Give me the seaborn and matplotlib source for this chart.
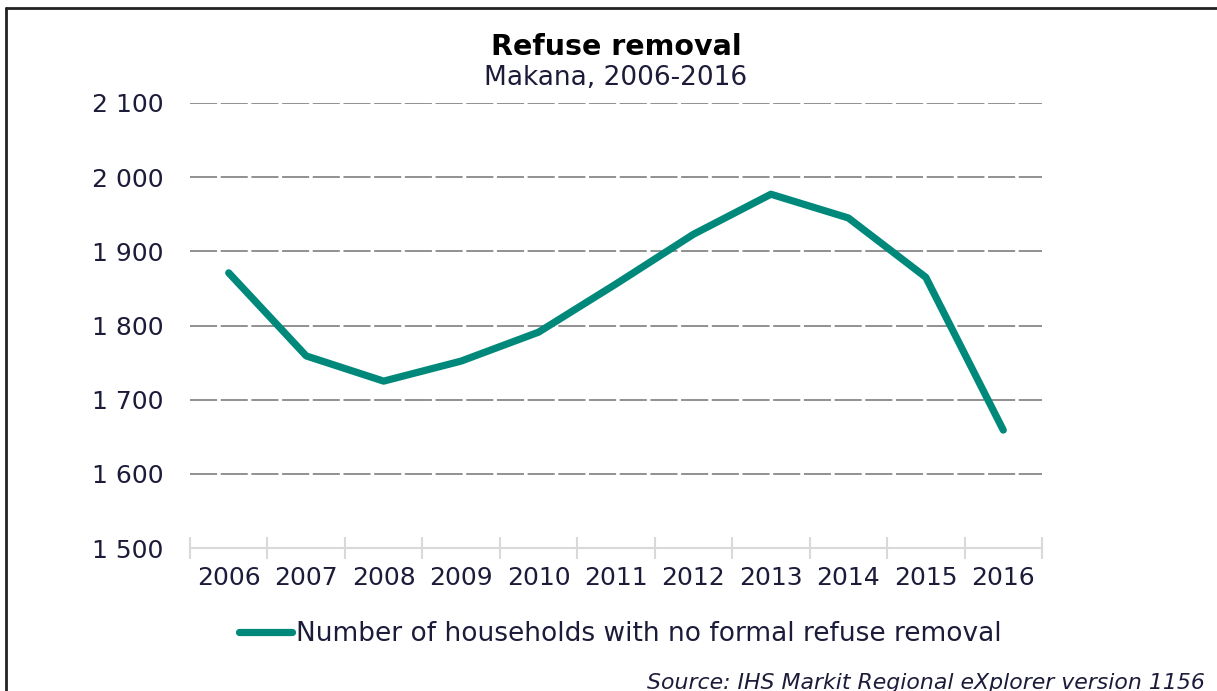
import matplotlib
matplotlib.use("Agg")
import matplotlib.pyplot as plt
from matplotlib.lines import Line2D
import seaborn as sns
import pandas as pd
import numpy as np

years = ["2006", "2007", "2008", "2009", "2010", "2011", "2012", "2013", "2014", "2015", "2016"]
households = [1871, 1759, 1725, 1752, 1791, 1856, 1923, 1977, 1945, 1865, 1659]
y_ticks = [1500, 1600, 1700, 1800, 1900, 2000, 2100]
y_tick_labels = ["1 500", "1 600", "1 700", "1 800", "1 900", "2 000", "2 100"]
series_name = "Number of households with no formal refuse removal"

sns.set_theme(style="white")
plt.rcParams["font.family"] = ["DejaVu Sans"]

text_color = "#1c1c3a"
line_color = "#00897b"

df = pd.DataFrame({"year": years, "value": households})
df["pos"] = np.arange(len(years))

fig = plt.figure(figsize=(12.17, 6.91), dpi=100)
ax = fig.add_axes([190 / 1217, 1 - 548 / 691, (1042 - 190) / 1217, (548 - 103) / 691])

sns.lineplot(data=df, x="pos", y="value", ax=ax, color=line_color, linewidth=5.2,
             solid_capstyle="round", solid_joinstyle="round", legend=False, zorder=3)

ax.set_xlim(-0.5, len(years) - 0.5)
ax.set_ylim(y_ticks[0], y_ticks[-1])

# dashed horizontal gridlines above the baseline
for v in y_ticks[1:]:
    ax.axhline(v, color="#888888", linewidth=1.3, linestyle=(0, (15, 2)), zorder=1)

ax.set_yticks(y_ticks)
ax.set_yticklabels(y_tick_labels, fontsize=18, color=text_color)
ax.tick_params(axis="y", length=0, pad=19)

ax.set_xticks(np.arange(len(years)))
ax.set_xticklabels(years, fontsize=18, color=text_color)
ax.set_xticks(np.arange(len(years) + 1) - 0.5, minor=True)
ax.tick_params(axis="x", which="major", length=0, pad=13)
ax.tick_params(axis="x", which="minor", direction="inout", length=16, width=1.5,
               color="#d9d9d9", bottom=True)

ax.set_xlabel("")
ax.set_ylabel("")
for side in ["top", "right", "left"]:
    ax.spines[side].set_visible(False)
ax.spines["bottom"].set_color("#d9d9d9")
ax.spines["bottom"].set_linewidth(1.5)

cx = (190 + 1042) / 2 / 1217
fig.text(cx, 1 - 55 / 691, "Refuse removal", ha="center", va="baseline",
         fontsize=20.5, fontweight="bold", color="black")
fig.text(cx, 1 - 85 / 691, "Makana, 2006-2016", ha="center", va="baseline",
         fontsize=19, color=text_color)

handle = Line2D([0], [0], color=line_color, linewidth=5.2, solid_capstyle="round")
fig.legend([handle], [series_name], loc="center", bbox_to_anchor=(620 / 1217, 1 - 634 / 691),
           frameon=False, fontsize=19, handlelength=2.0, handletextpad=0.15,
           labelcolor=text_color)

fig.text(1205 / 1217, 1 - 689 / 691, "Source: IHS Markit Regional eXplorer version 1156",
         ha="right", va="baseline", fontsize=15.8, style="italic", color=text_color)

# frame lines along the left and top edges
fig.add_artist(Line2D([6 / 1217, 6 / 1217], [0, 1 - 8 / 691], color="#222222",
                      linewidth=2, transform=fig.transFigure))
fig.add_artist(Line2D([6 / 1217, 1], [1 - 8 / 691, 1 - 8 / 691], color="#222222",
                      linewidth=2, transform=fig.transFigure))

fig.savefig("out.png", dpi=100)
